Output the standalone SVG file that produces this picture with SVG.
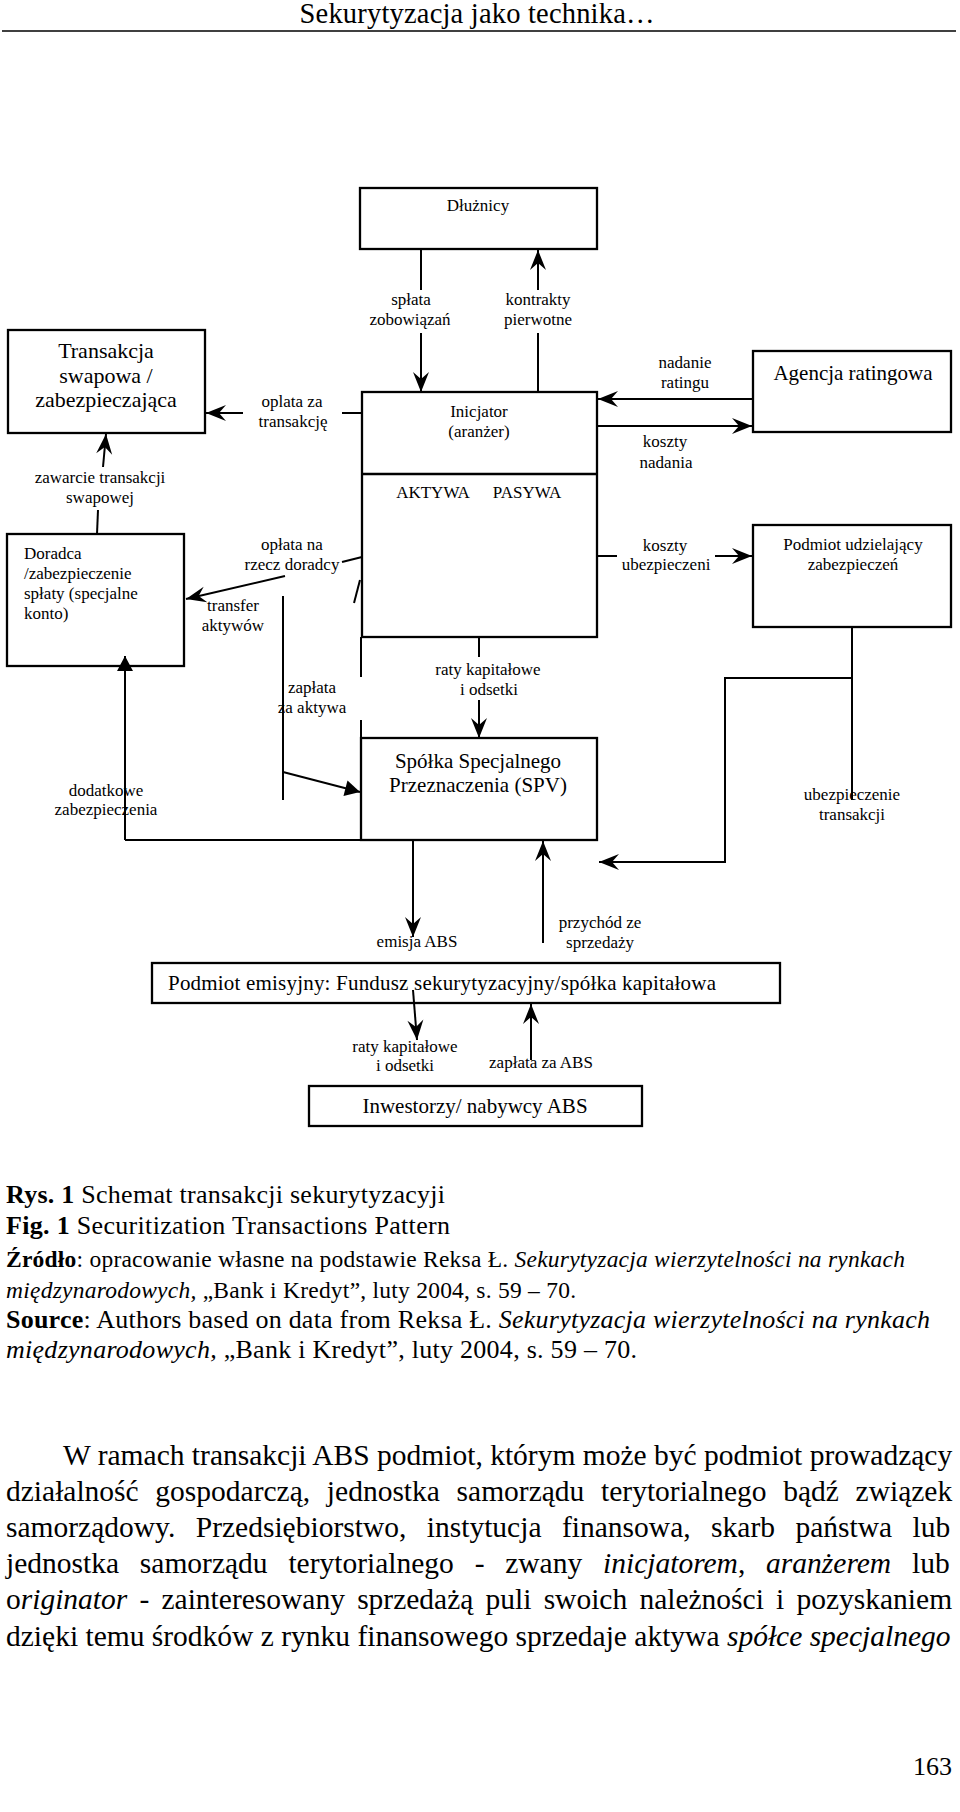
<svg xmlns="http://www.w3.org/2000/svg" width="960" height="1812" viewBox="0 0 960 1812">
<style>
text{font-family:"Liberation Serif","Times New Roman",serif;fill:#000}
.box{fill:none;stroke:#000;stroke-width:2.3}
.ln{fill:none;stroke:#000;stroke-width:2}
.lb{font-size:17px;text-anchor:middle}
.big{font-size:21px;text-anchor:middle}
.cap{font-size:26px}
.body{font-size:29.5px}
.b{font-weight:bold}
.i{font-style:italic}
</style>
<defs>
<marker id="barb" viewBox="-22 -10 24 20" refX="0" refY="0" markerWidth="24" markerHeight="20" markerUnits="userSpaceOnUse" orient="auto">
<path d="M0,0 L-20,-8 L-13,0 L-20,8 Z" fill="#000"/>
</marker>
<marker id="tri" viewBox="-17 -10 19 20" refX="0" refY="0" markerWidth="19" markerHeight="20" markerUnits="userSpaceOnUse" orient="auto">
<path d="M0,0 L-15,-8 L-15,8 Z" fill="#000"/>
</marker>
</defs>
<rect width="960" height="1812" fill="#fff"/>

<g id="header">
<text x="477" y="23" font-size="28.5" text-anchor="middle" textLength="355">Sekurytyzacja jako technika…</text>
<line x1="2" y1="31" x2="956" y2="31" stroke="#000" stroke-width="1.6"/>
</g>

<g id="dluznicy">
<rect class="box" x="360" y="188" width="237" height="61"/>
<text class="lb" x="478" y="211">Dłużnicy</text>
</g>

<g id="transakcja">
<rect class="box" x="8" y="330" width="197" height="103"/>
<text x="106" y="358" font-size="22" text-anchor="middle">Transakcja</text>
<text x="106" y="383" font-size="22" text-anchor="middle">swapowa /</text>
<text x="106" y="407" font-size="22" text-anchor="middle">zabezpieczająca</text>
</g>

<g id="inicjator">
<rect class="box" x="362" y="392" width="235" height="245"/>
<line class="box" x1="362" y1="474" x2="597" y2="474"/>
<text class="lb" x="479" y="417">Inicjator</text>
<text class="lb" x="479" y="437">(aranżer)</text>
<text class="lb" x="433" y="498">AKTYWA</text>
<text class="lb" x="527" y="498">PASYWA</text>
</g>

<g id="agencja">
<rect class="box" x="753" y="351" width="198" height="81"/>
<text class="big" x="853" y="380">Agencja ratingowa</text>
</g>

<g id="doradca">
<rect class="box" x="7" y="534" width="177" height="132"/>
<text x="24" y="559" font-size="17">Doradca</text>
<text x="24" y="579" font-size="17">/zabezpieczenie</text>
<text x="24" y="599" font-size="17">spłaty (specjalne</text>
<text x="24" y="619" font-size="17">konto)</text>
</g>

<g id="podmiot-zabezp">
<rect class="box" x="753" y="525" width="198" height="102"/>
<text class="lb" x="853" y="550">Podmiot udzielający</text>
<text class="lb" x="853" y="570">zabezpieczeń</text>
</g>

<g id="spv">
<rect class="box" x="361" y="738" width="236" height="102"/>
<text class="big" x="478" y="768">Spółka Specjalnego</text>
<text class="big" x="478" y="792">Przeznaczenia (SPV)</text>
</g>

<g id="emisyjny">
<rect class="box" x="152" y="963" width="628" height="40"/>
<text x="168" y="990" font-size="21" textLength="548">Podmiot emisyjny: Fundusz sekurytyzacyjny/spółka kapitałowa</text>
</g>

<g id="inwestorzy">
<rect class="box" x="309" y="1086" width="333" height="40"/>
<text class="big" x="475" y="1113">Inwestorzy/ nabywcy ABS</text>
</g>

<g id="connectors">
<line class="ln" x1="421" y1="249" x2="421" y2="290"/>
<line class="ln" x1="421" y1="333" x2="421" y2="392" marker-end="url(#barb)"/>
<line class="ln" x1="538" y1="392" x2="538" y2="333"/>
<line class="ln" x1="538" y1="290" x2="538" y2="250" marker-end="url(#barb)"/>
<line class="ln" x1="362" y1="413" x2="342" y2="413"/>
<line class="ln" x1="243" y1="413" x2="206" y2="413" marker-end="url(#barb)"/>
<line class="ln" x1="753" y1="399" x2="598" y2="399" marker-end="url(#barb)"/>
<line class="ln" x1="597" y1="426" x2="752" y2="426" marker-end="url(#barb)"/>
<line class="ln" x1="97" y1="534" x2="98" y2="510"/>
<line class="ln" x1="103" y1="467" x2="106" y2="434" marker-end="url(#barb)"/>
<line class="ln" x1="362" y1="557" x2="342" y2="562"/>
<line class="ln" x1="285" y1="576" x2="186" y2="599" marker-end="url(#barb)"/>
<line class="ln" x1="354" y1="603" x2="360" y2="580" stroke-width="3"/>
<line class="ln" x1="597" y1="556" x2="617" y2="556"/>
<line class="ln" x1="715" y1="556" x2="752" y2="556" marker-end="url(#barb)"/>
<line class="ln" x1="283" y1="596" x2="283" y2="800"/>
<line class="ln" x1="283" y1="772" x2="360" y2="792" marker-end="url(#tri)"/>
<line class="ln" x1="479" y1="637" x2="479" y2="657"/>
<line class="ln" x1="479" y1="700" x2="479" y2="738" marker-end="url(#barb)"/>
<line class="ln" x1="361" y1="637" x2="361" y2="677"/>
<line class="ln" x1="361" y1="720" x2="361" y2="738"/>
<line class="ln" x1="125" y1="840" x2="361" y2="840"/>
<line class="ln" x1="125" y1="840" x2="125" y2="656" marker-end="url(#tri)"/>
<line class="ln" x1="852" y1="627" x2="852" y2="800"/>
<polyline class="ln" points="852,678 725,678 725,862 599,862" marker-end="url(#barb)"/>
<line class="ln" x1="413" y1="840" x2="413" y2="937" marker-end="url(#barb)"/>
<line class="ln" x1="543" y1="943" x2="543" y2="841" marker-end="url(#barb)"/>
<line class="ln" x1="413" y1="990" x2="417" y2="1040" marker-end="url(#barb)"/>
<line class="ln" x1="531" y1="1060" x2="531" y2="1004" marker-end="url(#barb)"/>
</g>

<g id="labels">
<text class="lb" x="411" y="305">spłata</text>
<text class="lb" x="410" y="325">zobowiązań</text>
<text class="lb" x="538" y="305">kontrakty</text>
<text class="lb" x="538" y="325">pierwotne</text>
<text class="lb" x="292" y="407">oplata za</text>
<text class="lb" x="293" y="427">transakcję</text>
<text class="lb" x="685" y="368">nadanie</text>
<text class="lb" x="685" y="388">ratingu</text>
<text class="lb" x="665" y="447">koszty</text>
<text class="lb" x="666" y="468">nadania</text>
<text class="lb" x="100" y="483">zawarcie transakcji</text>
<text class="lb" x="100" y="503">swapowej</text>
<text class="lb" x="292" y="550">opłata na</text>
<text class="lb" x="292" y="570">rzecz doradcy</text>
<text class="lb" x="233" y="611">transfer</text>
<text class="lb" x="233" y="631">aktywów</text>
<text class="lb" x="665" y="551">koszty</text>
<text class="lb" x="666" y="570">ubezpieczeni</text>
<text class="lb" x="312" y="693">zapłata</text>
<text class="lb" x="312" y="713">za aktywa</text>
<text class="lb" x="488" y="675">raty kapitałowe</text>
<text class="lb" x="489" y="695">i odsetki</text>
<text class="lb" x="106" y="796">dodatkowe</text>
<text class="lb" x="106" y="815">zabezpieczenia</text>
<text class="lb" x="852" y="800">ubezpieczenie</text>
<text class="lb" x="852" y="820">transakcji</text>
<text class="lb" x="417" y="947">emisja ABS</text>
<text class="lb" x="600" y="928">przychód ze</text>
<text class="lb" x="600" y="948">sprzedaży</text>
<text class="lb" x="405" y="1052">raty kapitałowe</text>
<text class="lb" x="405" y="1071">i odsetki</text>
<text class="lb" x="541" y="1068">zapłata za ABS</text>
</g>

<g id="caption">
<text class="cap" x="6" y="1203" textLength="439"><tspan class="b">Rys. 1</tspan> Schemat transakcji sekurytyzacyji</text>
<text class="cap" x="6" y="1234" textLength="444"><tspan class="b">Fig. 1</tspan> Securitization Transactions Pattern</text>
<text x="6" y="1267" font-size="23.5" textLength="899"><tspan class="b">Źródło</tspan>: opracowanie własne na podstawie Reksa Ł. <tspan class="i">Sekurytyzacja wierzytelności na rynkach</tspan></text>
<text x="6" y="1298" font-size="23.5" textLength="570"><tspan class="i">międzynarodowych,</tspan> „Bank i Kredyt”, luty 2004, s. 59 – 70.</text>
<text class="cap" x="6" y="1328" textLength="924"><tspan class="b">Source</tspan>: Authors based on data from Reksa Ł. <tspan class="i">Sekurytyzacja wierzytelności na rynkach</tspan></text>
<text class="cap" x="6" y="1358" textLength="631"><tspan class="i">międzynarodowych,</tspan> „Bank i Kredyt”, luty 2004, s. 59 – 70.</text>
</g>

<g id="body">
<text class="body" x="63" y="1465">W ramach transakcji ABS podmiot, którym może być podmiot prowadzący</text>
<text class="body" x="6" y="1501" word-spacing="9.3">działalność gospodarczą, jednostka samorządu terytorialnego bądź związek</text>
<text class="body" x="6" y="1537" word-spacing="13.1">samorządowy. Przedsiębiorstwo, instytucja finansowa, skarb państwa lub</text>
<text class="body" x="6" y="1573" word-spacing="13.4">jednostka samorządu terytorialnego - zwany <tspan class="i">inicjatorem</tspan>, <tspan class="i">aranżerem</tspan> lub</text>
<text class="body" x="6" y="1609" word-spacing="4.8">o<tspan class="i">riginator</tspan> - zainteresowany sprzedażą puli swoich należności i pozyskaniem</text>
<text class="body" x="6" y="1646">dzięki temu środków z rynku finansowego sprzedaje aktywa <tspan class="i">spółce specjalnego</tspan></text>
<text x="952" y="1775" font-size="26" text-anchor="end">163</text>
</g>
</svg>
